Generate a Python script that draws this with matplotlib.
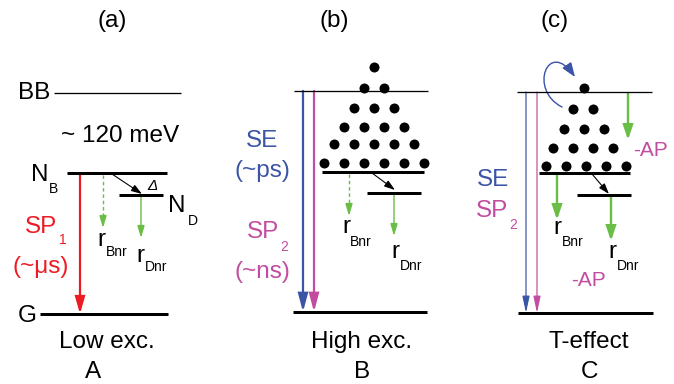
import matplotlib.pyplot as plt
from matplotlib.patches import FancyArrowPatch
from matplotlib.path import Path

plt.rcParams['font.family'] = ['Liberation Sans', 'DejaVu Sans']

RED = '#ed1c24'
BLUE = '#3b54a5'
MAGENTA = '#c24da0'
GREEN = '#6abd45'

# panel titles and captions
panel_x = [112, 334, 555]
panel_tags = ['(a)', '(b)', '(c)']
captions = ['Low exc.', 'High exc.', 'T-effect']
letters = ['A', 'B', 'C']
caption_x = [107, 362, 589]

# energy levels: (x0, x1, y, thick)
levels = [
    (54, 181, 93, False),   # BB (a)
    (67, 167, 173, True),   # NB (a)
    (119, 163, 195, True),  # ND (a)
    (40, 168, 314, True),   # G (a)
    (294, 428, 91, False),  # top (b)
    (322, 424, 172, True),  # NB (b)
    (367, 421, 193, True),  # ND (b)
    (293, 427, 312, True),  # G (b)
    (517, 652, 92, False),  # top (c)
    (539, 630, 173, True),  # NB (c)
    (577, 631, 195, True),  # ND (c)
    (518, 653, 313, True),  # G (c)
]

# carrier dots: row centre x, row y, count
dots_b_y = [67, 88, 108, 127, 144, 163]
dots_b_n = [1, 2, 3, 4, 5, 6]
dots_b_cx = 374
dots_c_y = [88, 109, 129, 148, 166]
dots_c_n = [1, 2, 3, 4, 5]
dots_c_cx = [584, 583, 584, 583, 586]
dot_dx = 20

# vertical arrows: x, y_start, y_end, color, lw(px), head len(px), head width(px), dashed
v_arrows = [
    (80, 173, 314, RED, 2.2, 14, 8, False),
    (103, 175, 228, GREEN, 1.4, 10, 6, True),
    (141, 196, 238, GREEN, 1.4, 10, 6, False),
    (303, 91, 312, BLUE, 2.2, 15, 8, False),
    (314, 91, 312, MAGENTA, 2.2, 15, 8, False),
    (349, 174, 216, GREEN, 1.4, 10, 6, True),
    (394, 194, 236, GREEN, 1.4, 10, 6, False),
    (526, 92, 313, BLUE, 1.2, 14, 6, False),
    (537, 92, 313, MAGENTA, 1.2, 14, 6, False),
    (628, 93, 140, GREEN, 2.4, 12, 8, False),
    (557, 174, 220, GREEN, 2.4, 12, 8, False),
    (611, 196, 241, GREEN, 2.4, 12, 8, False),
]

# thin black transfer arrows NB -> ND
transfer = [((112, 174), (142, 194)), ((372, 173), (395, 190)), ((592, 174), (609, 194))]

fig = plt.figure(figsize=(6.74, 3.84), dpi=100)
ax = fig.add_axes([0, 0, 1, 1])
ax.set_xlim(0, 674)
ax.set_ylim(384, 0)
ax.axis('off')

PX = 0.72  # points per pixel at 100 dpi
FS = 17.5


def txt(x, y, s, size=FS, color='k', ha='center', **kw):
    ax.text(x, y, s, fontsize=size, color=color, ha=ha, va='center', **kw)


def arrow(p0, p1, color, lw, hl, hw, ls='-'):
    a = FancyArrowPatch(p0, p1, arrowstyle=f'-|>,head_length={hl * PX},head_width={hw * PX / 2}',
                        mutation_scale=1, color=color, lw=lw * PX, linestyle=ls,
                        shrinkA=0, shrinkB=0, joinstyle='miter')
    ax.add_patch(a)


for x0, x1, y, thick in levels:
    ax.plot([x0, x1], [y, y], color='k', lw=(3 if thick else 1.3) * PX, solid_capstyle='butt')

for y, n in zip(dots_b_y, dots_b_n):
    xs = [dots_b_cx + (i - (n - 1) / 2) * dot_dx for i in range(n)]
    ax.plot(xs, [y] * n, 'o', color='k', ms=10 * PX, mew=0)
for y, n, cx in zip(dots_c_y, dots_c_n, dots_c_cx):
    xs = [cx + (i - (n - 1) / 2) * dot_dx for i in range(n)]
    ax.plot(xs, [y] * n, 'o', color='k', ms=10 * PX, mew=0)

for x, y0, y1, c, lw, hl, hw, dashed in v_arrows:
    if dashed:
        ax.plot([x, x], [y0, y1 - hl], color=c, lw=lw * PX, dashes=(2.5, 2))
        arrow((x, y1 - hl - 0.5), (x, y1), c, lw, hl, hw)
    else:
        arrow((x, y0), (x, y1), c, lw, hl, hw)

for p0, p1 in transfer:
    arrow(p0, p1, 'k', 1.1, 9, 6)

# curved blue arrow (c)
curve = Path([(562, 107), (528, 90), (548, 38), (575, 77)],
             [Path.MOVETO, Path.CURVE4, Path.CURVE4, Path.CURVE4])
ax.add_patch(FancyArrowPatch(path=curve, arrowstyle=f'-|>,head_length={12 * PX},head_width={4.5 * PX}',
                             mutation_scale=1, color=BLUE, lw=1.4 * PX))

for x, s in zip(panel_x, panel_tags):
    txt(x, 21, s)
for x, s, l in zip(caption_x, captions, letters):
    txt(x, 342, s)
    txt(x - 14 if l == 'A' else x, 372, l)

# panel (a) labels
txt(34, 93, 'BB')
txt(120, 136, '~ 120 meV')
txt(40, 175, 'N')
txt(54, 189, 'B', size=10)
txt(152, 186, 'Δ', size=11, style='italic')
txt(177, 206, 'N')
txt(193, 221, 'D', size=10)
txt(41, 227, 'SP', color=RED)
txt(63, 240, '1', size=10, color=RED)
txt(41, 267, '(~μs)', color=RED)
txt(27, 316, 'G')
txt(97, 240, 'r', ha='left')
txt(106, 252, 'Bnr', size=10, ha='left')
txt(136, 256, 'r', ha='left')
txt(145, 267, 'Dnr', size=10, ha='left')

# panel (b) labels
txt(262, 141, 'SE', color=BLUE)
txt(262, 171, '(~ps)', color=BLUE)
txt(263, 232, 'SP', color=MAGENTA)
txt(284, 247, '2', size=10, color=MAGENTA)
txt(262, 272, '(~ns)', color=MAGENTA)
txt(342, 227, 'r', ha='left')
txt(350, 242, 'Bnr', size=10, ha='left')
txt(391, 252, 'r', ha='left')
txt(400, 266, 'Dnr', size=10, ha='left')

# panel (c) labels
txt(493, 180, 'SE', color=BLUE)
txt(492, 211, 'SP', color=MAGENTA)
txt(513, 225, '2', size=10, color=MAGENTA)
txt(650, 151, '-AP', size=15, color=MAGENTA)
txt(588, 280, '-AP', size=15, color=MAGENTA)
txt(553, 228, 'r', ha='left')
txt(562, 242, 'Bnr', size=10, ha='left')
txt(608, 252, 'r', ha='left')
txt(617, 266, 'Dnr', size=10, ha='left')

fig.savefig('out.png', dpi=100)
